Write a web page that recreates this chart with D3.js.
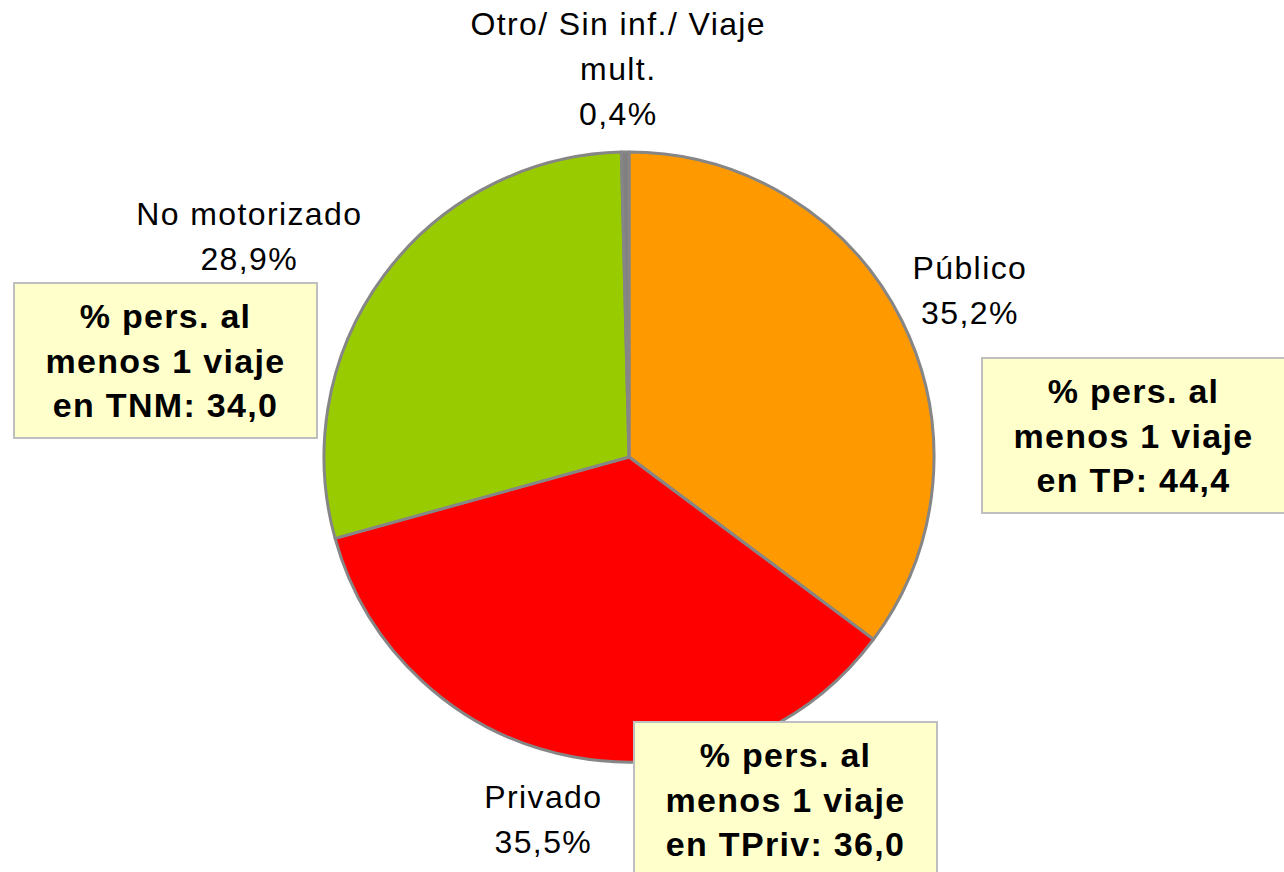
<!DOCTYPE html>
<html>
<head>
<meta charset="utf-8">
<script src="https://cdn.jsdelivr.net/npm/d3@7"></script>
<style>
  html, body { margin: 0; padding: 0; background: #ffffff; }
  svg { display: block; font-family: "Liberation Sans", Arial, sans-serif; }
</style>
</head>
<body>
<svg id="chart" width="1284" height="872"></svg>
<script>
// ---- data ----
const categories = ["Público", "Privado", "No motorizado", "Otro/ Sin inf./ Viaje mult."];
const shares = [35.2, 35.5, 28.9, 0.4];
const sliceColors = ["#FF9900", "#FF0000", "#99CC00", "#808080"];
const labelLines = [
  ["Público", "35,2%"],
  ["Privado", "35,5%"],
  ["No motorizado", "28,9%"],
  ["Otro/ Sin inf./ Viaje", "mult.", "0,4%"]
];
const boxTexts = [
  ["% pers. al", "menos 1 viaje", "en TNM: 34,0"],
  ["% pers. al", "menos 1 viaje", "en TP: 44,4"],
  ["% pers. al", "menos 1 viaje", "en TPriv: 36,0"]
];

// ---- layout ----
const W = 1284, H = 872;
const cx = 629, cy = 457, R = 305;
const labelR = 378;
const labelNudge = [[3, 3], [-16, -9], [-76, 5], [-6, -10]];
const boxes = [
  { x: 14, y: 283, w: 303, h: 155 },
  { x: 982, y: 358, w: 306, h: 155 },
  { x: 634, y: 722, w: 303, h: 155 }
];

const svg = d3.select("#chart");

const pie = d3.pie().sort(null).value(d => d)(shares);
const arc = d3.arc().innerRadius(0).outerRadius(R);
const labelArc = d3.arc().innerRadius(labelR).outerRadius(labelR);

const g = svg.append("g").attr("transform", `translate(${cx},${cy})`);
g.selectAll("path.slice")
  .data(pie)
  .join("path")
  .attr("class", "slice")
  .attr("d", arc)
  .attr("fill", (d, i) => sliceColors[i])
  .attr("stroke", "#868686")
  .attr("stroke-width", 3)
  .attr("stroke-linejoin", "round");

// slice labels
const lineH = 45;
pie.forEach((d, i) => {
  const c = labelArc.centroid(d);
  const x = cx + c[0] + labelNudge[i][0];
  const y = cy + c[1] + labelNudge[i][1];
  const lines = labelLines[i];
  const t = svg.append("text")
    .attr("text-anchor", "middle")
    .attr("font-size", 32)
    .attr("letter-spacing", 1.4)
    .attr("fill", "#000");
  lines.forEach((ln, k) => {
    t.append("tspan")
      .attr("x", x)
      .attr("y", y + (k - (lines.length - 1) / 2) * lineH + 11)
      .text(ln);
  });
});

// annotation boxes
boxes.forEach((b, i) => {
  svg.append("rect")
    .attr("x", b.x).attr("y", b.y)
    .attr("width", b.w).attr("height", b.h)
    .attr("fill", "#FFFFCC")
    .attr("stroke", "#BFBFBF")
    .attr("stroke-width", 2);
  const lines = boxTexts[i];
  const bx = b.x + 151.5;
  const by = b.y + 77.5;
  const t = svg.append("text")
    .attr("text-anchor", "middle")
    .attr("font-size", 34)
    .attr("font-weight", "bold")
    .attr("letter-spacing", 1.3)
    .attr("fill", "#000");
  lines.forEach((ln, k) => {
    t.append("tspan")
      .attr("x", bx)
      .attr("y", by + (k - 1) * 44.5 + 12)
      .text(ln);
  });
});
</script>
</body>
</html>
